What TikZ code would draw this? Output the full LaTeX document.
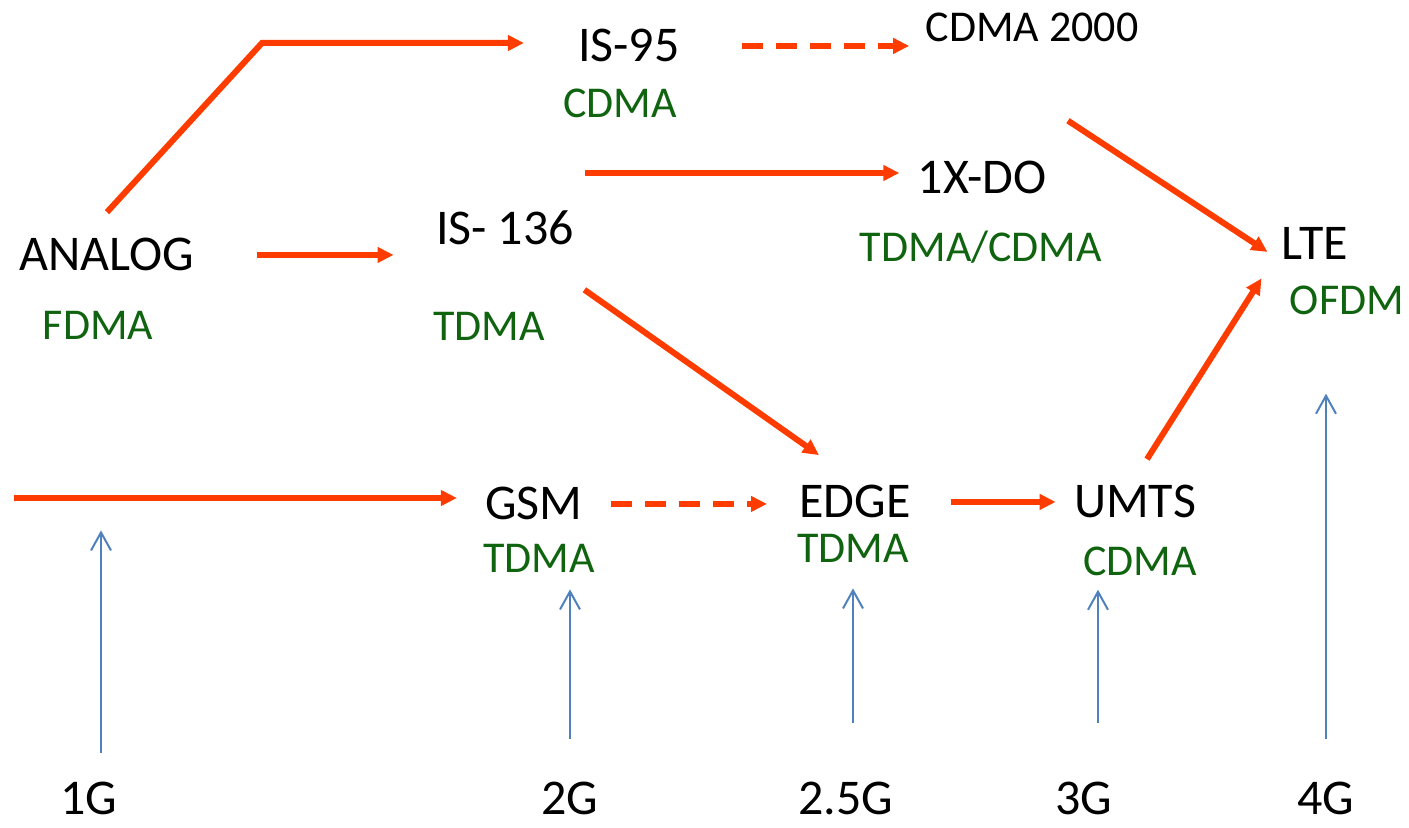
\documentclass[tikz,border=0pt]{standalone}
\usepackage{fontspec}
\setmainfont{Carlito}
\usetikzlibrary{arrows.meta}
\definecolor{linkred}{RGB}{255,60,0}
\definecolor{accgreen}{RGB}{16,100,16}
\definecolor{genblue}{RGB}{79,129,189}

\begin{document}
\begin{tikzpicture}[x=0.5pt,y=-0.5pt,
			technode/.style={anchor=base, inner sep=0pt, font=\fontsize{25}{30}\selectfont},
			smalltech/.style={anchor=base, inner sep=0pt, font=\fontsize{22}{26}\selectfont},
			accessnode/.style={anchor=base, inner sep=0pt, text=accgreen, font=\fontsize{22}{26}\selectfont},
			gennode/.style={anchor=base, inner sep=0pt, font=\fontsize{25}{30}\selectfont},
			redarrow/.style={draw=linkred, line width=3pt, -{Triangle[length=8pt,width=7.5pt]}},
			reddashed/.style={redarrow, dash pattern=on 10.5pt off 6.5pt},
			bluearrow/.style={draw=genblue, line width=1pt, -{Straight Barb[length=9pt,width=10pt]}},
			]
			\useasboundingbox (0,0) rectangle (1409,828);
			%Nodes
			\node[technode]     (analog)    at (107,271)   {ANALOG};
			\node[accessnode]   (fdma)      at (98,340)    {FDMA};
			\node[technode]     (is95)      at (629,62)    {IS-95};
			\node[accessnode]   (cdmaA)     at (620,118)   {CDMA};
			\node[smalltech]    (cdma2000)  at (1032,42)   {CDMA 2000};
			\node[technode]     (xdo)       at (982,194)   {1X-DO};
			\node[accessnode]   (tdcdma)    at (981,262)   {TDMA/CDMA};
			\node[technode]     (is136)     at (505,245)   {IS- 136};
			\node[accessnode]   (tdmaA)     at (489,341)   {TDMA};
			\node[technode]     (lte)       at (1315,260)  {LTE};
			\node[accessnode]   (ofdm)      at (1347,315)  {OFDM};
			\node[technode]     (gsm)       at (534,520)   {GSM};
			\node[accessnode]   (tdmaB)     at (539,573)   {TDMA};
			\node[technode]     (edge)      at (855,518)   {EDGE};
			\node[accessnode]   (tdmaC)     at (853,562)   {TDMA};
			\node[technode]     (umts)      at (1135,518)  {UMTS};
			\node[accessnode]   (cdmaB)     at (1140,575)  {CDMA};
			\node[gennode]      (g1)        at (89,814)    {1G};
			\node[gennode]      (g2)        at (570,814)   {2G};
			\node[gennode]      (g25)       at (846,814)   {2.5G};
			\node[gennode]      (g3)        at (1084,814)  {3G};
			\node[gennode]      (g4)        at (1326,814)  {4G};
			\coordinate         (bendA)     at (262,43);
			\coordinate         (startB)    at (585,173);
			\coordinate         (startC)    at (14,498);
			
			%Evolution
			\draw[redarrow, shorten >=27pt] ([yshift=13pt]analog.north) -- (bendA) -- (bendA -| is95.west);
			\draw[reddashed, shorten <=31pt, shorten >=8pt] (is95.east) -- (is95.east -| cdma2000.west);
			\draw[redarrow, shorten <=31pt, shorten >=21pt] (analog.east) -- (analog.east -| is136.west);
			\draw[redarrow, shorten >=9pt] (startB) -- (startB -| xdo.west);
			\draw[redarrow] ([shift={(5pt,-22pt)}]is136.south east) -- ([shift={(10pt,15pt)}]edge.north west);
			\draw[redarrow] ([shift={(18pt,-39pt)}]cdma2000.south) -- ([shift={(-7pt,-4pt)}]lte.west);
			\draw[redarrow] ([shift={(6pt,13pt)}]umts.north) -- ([shift={(-10pt,-9pt)}]lte.south west);
			\draw[reddashed, shorten <=14pt, shorten >=16pt] (gsm.east) -- (gsm.east -| edge.west);
			\draw[redarrow, shorten <=20pt, shorten >=9pt] (edge.east) -- (edge.east -| umts.west);
			\draw[redarrow, shorten >=14pt] (startC) -- (startC -| gsm.west);
			
			%Generations
			\draw[bluearrow, shorten <=14pt, shorten >=95pt] ([xshift=6pt]g1.north) -- ([xshift=6pt]g1.north |- fdma.south);
			\draw[bluearrow, shorten <=21pt, shorten >=8pt] (g2.north) -- (g2.north |- tdmaB.south);
			\draw[bluearrow, shorten <=29pt, shorten >=13pt] (g25.north -| tdmaC.south) -- (tdmaC.south);
			\draw[bluearrow, shorten <=29pt, shorten >=7pt] ([xshift=7pt]g3.north) -- ([xshift=7pt]g3.north |- cdmaB.south);
			\draw[bluearrow, shorten <=21pt, shorten >=39pt] (g4.north) -- (g4.north |- ofdm.south);
\end{tikzpicture}
\end{document}
